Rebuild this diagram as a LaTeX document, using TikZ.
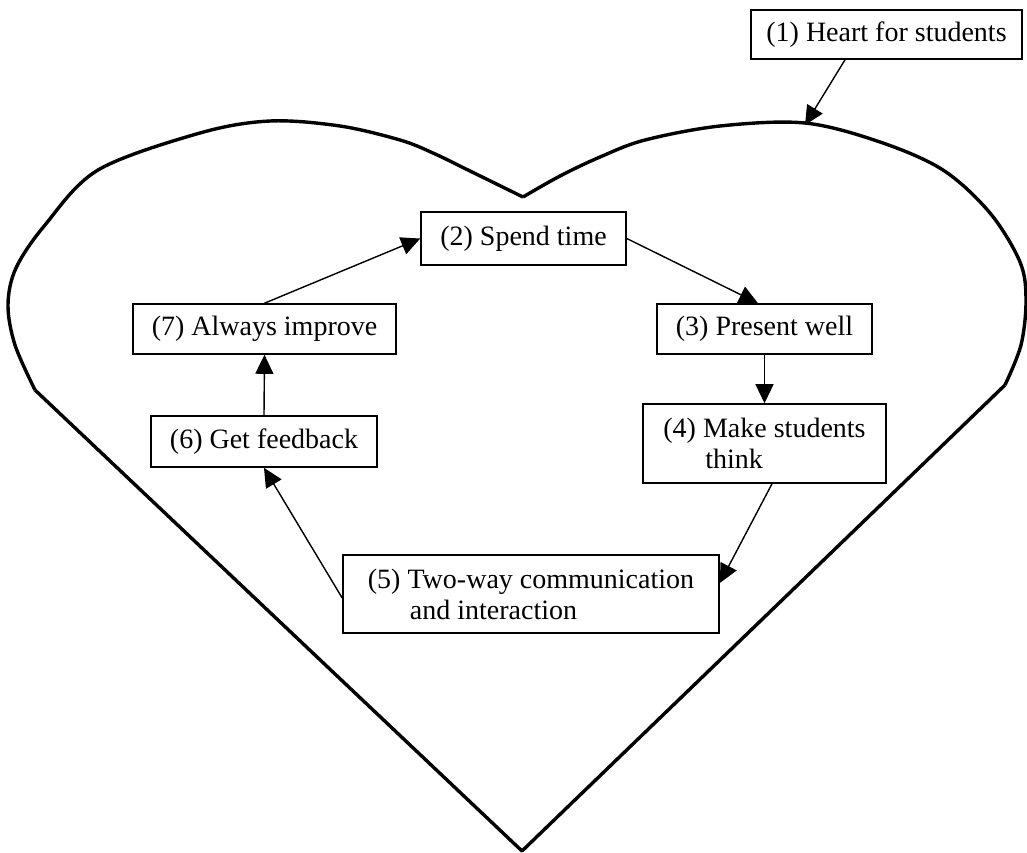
\documentclass[tikz,border=0pt]{standalone}
\usepackage{fontspec}
\setmainfont{Liberation Serif}
\usetikzlibrary{arrows.meta}
\tikzset{
  box/.style={draw, line width=0.8pt, inner sep=0pt, align=left,
    font=\fontsize{14}{15.5}\selectfont},
  arr/.style={line width=0.7pt, -{Triangle[length=9.5pt,width=9pt]}},
  heartline/.style={line width=1.7pt, line join=round},
}
\begin{document}
\begin{tikzpicture}[x=0.5pt,y=-0.5pt]
\useasboundingbox (0,0) rectangle (1027,852);
% heart
\draw[heartline] plot[smooth, tension=0.55] coordinates {(35,390) (15,345) (8,305) (16,268) (45,225) (98,170) (200,133) (270,121) (340,126) (400,140) (433,153) (470,171) (523,197)};
\draw[heartline] plot[smooth, tension=0.55] coordinates {(523,197) (560,176) (600,157) (645,140) (720,126) (805,123) (880,142) (943,170) (990,213) (1020,262) (1026,300) (1021,345) (1005,385)};
\draw[heartline] (35,390) -- (522,851) -- (1005,385);
\coordinate (h1) at (805,125);
% boxes
\node[box, minimum width=135.5pt, minimum height=24.5pt] (b1) at (886.5,34.5) {(1) Heart for students};
\node[box, minimum width=102.5pt, minimum height=26.5pt] (b2) at (523.5,238.5) {(2) Spend time};
\node[box, minimum width=107.5pt, minimum height=25pt] (b3) at (764.5,329) {(3) Present well};
\node[box, minimum width=121.5pt, minimum height=39.5pt] (b4) at (764.5,443.5) {(4) Make students\\\hspace*{21pt}think};
\node[box, minimum width=188pt, minimum height=39pt] (b5) at (531,594) {(5) Two-way communication\\\hspace*{21pt}and interaction};
\node[box, minimum width=113pt, minimum height=25.5pt] (b6) at (264,441.5) {(6) Get feedback};
\node[box, minimum width=131.5pt, minimum height=25pt] (b7) at (264.5,329) {(7) Always improve};
% connectors
\draw[arr] ([xshift=-20.75pt]b1.south) -- (h1);
\draw[arr] (b2.east) -- ([xshift=-3.25pt]b3.north);
\draw[arr] (b3.south) -- (b4.north);
\draw[arr] ([xshift=3.75pt]b4.south) -- ([yshift=5.5pt]b5.east);
\draw[arr] ([yshift=-2pt]b5.west) -- (b6.south);
\draw[arr] (b6.north) -- (b7.south);
\draw[arr] (b7.north) -- (b2.west);
\end{tikzpicture}
\end{document}
